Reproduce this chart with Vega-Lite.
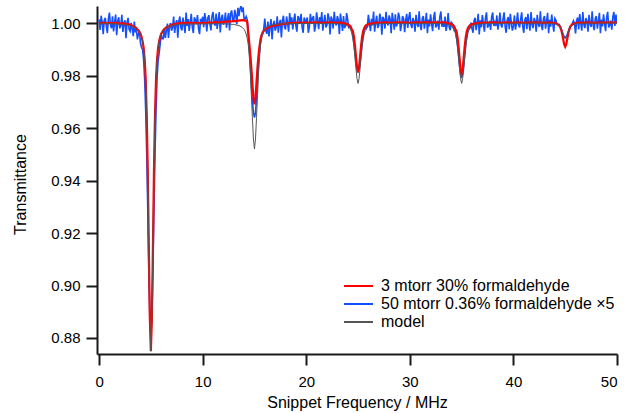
{
"$schema": "https://vega.github.io/schema/vega-lite/v6.json",
"width": 520, "height": 348,
"autosize": {"type": "none"},
"padding": {"left": 97, "top": 6, "right": 10, "bottom": 59},
"background": "white",
"config": {
  "view": {"stroke": null},
  "font": "Liberation Sans",
  "axis": {"grid": false, "domainColor": "#1a1a1a", "domainWidth": 2, "tickColor": "#1a1a1a", "tickWidth": 2, "tickSize": 11,
    "labelFont": "Liberation Sans", "labelFontSize": 15, "labelColor": "#000000",
    "titleFont": "Liberation Sans", "titleFontSize": 16, "titleFontWeight": "normal", "titleColor": "#000000"},
  "legend": {"labelFont": "Liberation Sans", "labelFontSize": 16, "labelColor": "#000000", "labelLimit": 0}
},
"datasets": {
"blue": [
{"x":0,"y":1.0014},{"x":0.1,"y":0.9974},{"x":0.2,"y":1.0028},{"x":0.3,"y":1.0004},{"x":0.4,"y":0.9958},{"x":0.5,"y":1.001},{"x":0.6,"y":1.002},{"x":0.7,"y":0.9988},{"x":0.8,"y":0.9962},{"x":0.9,"y":1.0016},
{"x":1,"y":1.004},{"x":1.1,"y":0.9992},{"x":1.2,"y":0.998},{"x":1.3,"y":1.0026},{"x":1.4,"y":0.9968},{"x":1.5,"y":1.0002},{"x":1.6,"y":1.0032},{"x":1.7,"y":0.9954},{"x":1.8,"y":1.0008},{"x":1.9,"y":1.0022},
{"x":2,"y":0.998},{"x":2.1,"y":0.9991},{"x":2.2,"y":1.0031},{"x":2.3,"y":0.9966},{"x":2.4,"y":1.0},{"x":2.5,"y":1.0011},{"x":2.6,"y":0.9942},{"x":2.7,"y":1.0003},{"x":2.8,"y":1.002},{"x":2.9,"y":0.9975},
{"x":3,"y":0.9968},{"x":3.1,"y":1.0001},{"x":3.2,"y":0.9979},{"x":3.3,"y":0.995},{"x":3.4,"y":1.0006},{"x":3.5,"y":0.9964},{"x":3.6,"y":0.9978},{"x":3.7,"y":0.9938},{"x":3.8,"y":0.9958},{"x":3.9,"y":0.9971},
{"x":4,"y":0.9923},{"x":4.1,"y":0.9907},{"x":4.2,"y":0.99},{"x":4.3,"y":0.9861},{"x":4.4,"y":0.9787},{"x":4.5,"y":0.967},{"x":4.6,"y":0.9504},{"x":4.7,"y":0.9292},{"x":4.8,"y":0.9056},{"x":4.9,"y":0.8879},
{"x":5,"y":0.882},{"x":5.1,"y":0.8879},{"x":5.2,"y":0.9056},{"x":5.3,"y":0.9292},{"x":5.4,"y":0.9504},{"x":5.5,"y":0.967},{"x":5.6,"y":0.9793},{"x":5.7,"y":0.9856},{"x":5.8,"y":0.9885},{"x":5.9,"y":0.9921},
{"x":6,"y":0.9955},{"x":6.1,"y":0.994},{"x":6.2,"y":0.994},{"x":6.3,"y":0.998},{"x":6.4,"y":0.9943},{"x":6.5,"y":0.9973},{"x":6.6,"y":0.9998},{"x":6.7,"y":0.9943},{"x":6.8,"y":0.9987},{"x":6.9,"y":1.0},
{"x":7,"y":0.9971},{"x":7.1,"y":0.9984},{"x":7.2,"y":1.0025},{"x":7.3,"y":0.9962},{"x":7.4,"y":0.9997},{"x":7.5,"y":1.0011},{"x":7.6,"y":0.9944},{"x":7.7,"y":1.0007},{"x":7.8,"y":1.0025},{"x":7.9,"y":0.9982},
{"x":8,"y":0.9972},{"x":8.1,"y":1.0021},{"x":8.2,"y":0.9995},{"x":8.3,"y":0.9962},{"x":8.4,"y":1.004},{"x":8.5,"y":0.9989},{"x":8.6,"y":1.0015},{"x":8.7,"y":0.997},{"x":8.8,"y":1.0004},{"x":8.9,"y":1.0035},
{"x":9,"y":0.9984},{"x":9.1,"y":0.9962},{"x":9.2,"y":1.0022},{"x":9.3,"y":1.0012},{"x":9.4,"y":0.9996},{"x":9.5,"y":1.003},{"x":9.6,"y":0.998},{"x":9.7,"y":0.9958},{"x":9.8,"y":1.0016},{"x":9.9,"y":1.0002},
{"x":10,"y":1.0024},{"x":10.1,"y":0.9984},{"x":10.2,"y":1.0038},{"x":10.3,"y":1.0014},{"x":10.4,"y":0.9968},{"x":10.5,"y":1.002},{"x":10.6,"y":1.003},{"x":10.7,"y":0.9998},{"x":10.8,"y":0.9972},{"x":10.9,"y":1.0026},
{"x":11,"y":1.0042},{"x":11.1,"y":1.0002},{"x":11.2,"y":0.999},{"x":11.3,"y":1.0036},{"x":11.4,"y":0.9978},{"x":11.5,"y":1.0012},{"x":11.6,"y":1.0042},{"x":11.7,"y":0.9964},{"x":11.8,"y":1.0018},{"x":11.9,"y":1.0032},
{"x":12,"y":0.9994},{"x":12.1,"y":1.0006},{"x":12.2,"y":1.004},{"x":12.3,"y":0.9982},{"x":12.4,"y":1.0016},{"x":12.5,"y":1.0038},{"x":12.6,"y":0.9972},{"x":12.7,"y":1.0036},{"x":12.8,"y":1.0048},{"x":12.9,"y":1.0013},
{"x":13,"y":1.0004},{"x":13.1,"y":1.005},{"x":13.2,"y":1.0028},{"x":13.3,"y":0.9996},{"x":13.4,"y":1.0058},{"x":13.5,"y":1.0026},{"x":13.6,"y":1.0054},{"x":13.7,"y":1.0065},{"x":13.8,"y":1.0042},{"x":13.9,"y":1.006},
{"x":14,"y":1.0014},{"x":14.1,"y":1.0016},{"x":14.2,"y":1.0025},{"x":14.3,"y":1.0013},{"x":14.4,"y":0.9975},{"x":14.5,"y":0.9905},{"x":14.6,"y":0.984},{"x":14.7,"y":0.9765},{"x":14.8,"y":0.9705},{"x":14.9,"y":0.966},
{"x":15,"y":0.964},{"x":15.1,"y":0.9658},{"x":15.2,"y":0.9712},{"x":15.3,"y":0.9784},{"x":15.4,"y":0.9849},{"x":15.5,"y":0.9899},{"x":15.6,"y":0.994},{"x":15.7,"y":0.9955},{"x":15.8,"y":0.9959},{"x":15.9,"y":0.9979},
{"x":16,"y":1.0017},{"x":16.1,"y":0.997},{"x":16.2,"y":0.9959},{"x":16.3,"y":1.0006},{"x":16.4,"y":0.9949},{"x":16.5,"y":0.9984},{"x":16.6,"y":1.0015},{"x":16.7,"y":0.9938},{"x":16.8,"y":0.9993},{"x":16.9,"y":1.0008},
{"x":17,"y":0.9971},{"x":17.1,"y":0.9984},{"x":17.2,"y":1.0026},{"x":17.3,"y":0.9963},{"x":17.4,"y":0.9999},{"x":17.5,"y":1.0012},{"x":17.6,"y":0.9945},{"x":17.7,"y":1.0009},{"x":17.8,"y":1.0028},{"x":17.9,"y":0.9985},
{"x":18,"y":0.9976},{"x":18.1,"y":1.0025},{"x":18.2,"y":1.0},{"x":18.3,"y":0.9967},{"x":18.4,"y":1.0038},{"x":18.5,"y":0.9995},{"x":18.6,"y":1.0022},{"x":18.7,"y":0.9976},{"x":18.8,"y":1.0011},{"x":18.9,"y":1.0036},
{"x":19,"y":0.9989},{"x":19.1,"y":0.9967},{"x":19.2,"y":1.0027},{"x":19.3,"y":1.0017},{"x":19.4,"y":1.0001},{"x":19.5,"y":1.0035},{"x":19.6,"y":0.9985},{"x":19.7,"y":0.9963},{"x":19.8,"y":1.0021},{"x":19.9,"y":1.0007},
{"x":20,"y":1.0007},{"x":20.1,"y":1.0021},{"x":20.2,"y":0.9963},{"x":20.3,"y":0.9985},{"x":20.4,"y":1.0035},{"x":20.5,"y":1.0001},{"x":20.6,"y":1.0017},{"x":20.7,"y":1.0027},{"x":20.8,"y":0.9967},{"x":20.9,"y":0.9989},
{"x":21,"y":1.0041},{"x":21.1,"y":1.0011},{"x":21.2,"y":0.9977},{"x":21.3,"y":1.0023},{"x":21.4,"y":0.9997},{"x":21.5,"y":1.0042},{"x":21.6,"y":0.9971},{"x":21.7,"y":1.0005},{"x":21.8,"y":1.0031},{"x":21.9,"y":0.9983},
{"x":22,"y":0.9993},{"x":22.1,"y":1.0037},{"x":22.2,"y":1.0019},{"x":22.3,"y":0.9957},{"x":22.4,"y":1.0025},{"x":22.5,"y":1.0013},{"x":22.6,"y":0.9979},{"x":22.7,"y":1.0043},{"x":22.8,"y":1.0003},{"x":22.9,"y":0.9991},
{"x":23,"y":1.0027},{"x":23.1,"y":1.0013},{"x":23.2,"y":0.9958},{"x":23.3,"y":1.0036},{"x":23.4,"y":1.0005},{"x":23.5,"y":0.997},{"x":23.6,"y":1.0027},{"x":23.7,"y":0.998},{"x":23.8,"y":0.9991},{"x":23.9,"y":1.0038},
{"x":24,"y":1.0013},{"x":24.1,"y":0.9983},{"x":24.2,"y":0.9986},{"x":24.3,"y":0.9987},{"x":24.4,"y":0.9974},{"x":24.5,"y":0.9952},{"x":24.6,"y":0.9925},{"x":24.7,"y":0.9891},{"x":24.8,"y":0.9853},{"x":24.9,"y":0.9825},
{"x":25,"y":0.9815},{"x":25.1,"y":0.9825},{"x":25.2,"y":0.9853},{"x":25.3,"y":0.9891},{"x":25.4,"y":0.9925},{"x":25.5,"y":0.9952},{"x":25.6,"y":0.9974},{"x":25.7,"y":0.9987},{"x":25.8,"y":0.9979},{"x":25.9,"y":0.9988},
{"x":26,"y":1.0031},{"x":26.1,"y":1.0002},{"x":26.2,"y":0.9969},{"x":26.3,"y":1.0016},{"x":26.4,"y":0.9991},{"x":26.5,"y":1.0044},{"x":26.6,"y":0.9967},{"x":26.7,"y":1.0002},{"x":26.8,"y":1.0028},{"x":26.9,"y":0.9981},
{"x":27,"y":0.9991},{"x":27.1,"y":1.0036},{"x":27.2,"y":1.0018},{"x":27.3,"y":0.9956},{"x":27.4,"y":1.0024},{"x":27.5,"y":1.0013},{"x":27.6,"y":0.9979},{"x":27.7,"y":1.0043},{"x":27.8,"y":1.0003},{"x":27.9,"y":0.9991},
{"x":28,"y":1.0029},{"x":28.1,"y":1.0015},{"x":28.2,"y":0.9961},{"x":28.3,"y":1.0039},{"x":28.4,"y":1.0009},{"x":28.5,"y":0.9975},{"x":28.6,"y":1.0033},{"x":28.7,"y":0.9987},{"x":28.8,"y":0.9999},{"x":28.9,"y":1.004},
{"x":29,"y":1.0023},{"x":29.1,"y":0.9969},{"x":29.2,"y":0.9995},{"x":29.3,"y":1.0027},{"x":29.4,"y":1.0017},{"x":29.5,"y":0.9965},{"x":29.6,"y":1.0011},{"x":29.7,"y":1.0035},{"x":29.8,"y":0.9981},{"x":29.9,"y":1.0021},
{"x":30,"y":1.0042},{"x":30.1,"y":0.9995},{"x":30.2,"y":0.9981},{"x":30.3,"y":1.0019},{"x":30.4,"y":1.0007},{"x":30.5,"y":0.9967},{"x":30.6,"y":1.0031},{"x":30.7,"y":0.9997},{"x":30.8,"y":0.9985},{"x":30.9,"y":1.0045},
{"x":31,"y":0.9991},{"x":31.1,"y":0.9973},{"x":31.2,"y":1.0017},{"x":31.3,"y":1.0027},{"x":31.4,"y":0.9979},{"x":31.5,"y":1.0005},{"x":31.6,"y":1.0039},{"x":31.7,"y":0.9961},{"x":31.8,"y":1.0013},{"x":31.9,"y":0.9987},
{"x":32,"y":1.0033},{"x":32.1,"y":0.9999},{"x":32.2,"y":0.9969},{"x":32.3,"y":1.0021},{"x":32.4,"y":1.0043},{"x":32.5,"y":0.9983},{"x":32.6,"y":0.9993},{"x":32.7,"y":1.0009},{"x":32.8,"y":0.9975},{"x":32.9,"y":1.0025},
{"x":33,"y":1.0044},{"x":33.1,"y":0.9986},{"x":33.2,"y":1.0},{"x":33.3,"y":0.9985},{"x":33.4,"y":1.0025},{"x":33.5,"y":0.997},{"x":33.6,"y":0.9993},{"x":33.7,"y":1.0038},{"x":33.8,"y":0.9985},{"x":33.9,"y":0.9973},
{"x":34,"y":1.0003},{"x":34.1,"y":0.9999},{"x":34.2,"y":0.9982},{"x":34.3,"y":0.997},{"x":34.4,"y":0.9968},{"x":34.5,"y":0.9946},{"x":34.6,"y":0.9917},{"x":34.7,"y":0.9879},{"x":34.8,"y":0.9837},{"x":34.9,"y":0.9805},
{"x":35,"y":0.9795},{"x":35.1,"y":0.9805},{"x":35.2,"y":0.9837},{"x":35.3,"y":0.9879},{"x":35.4,"y":0.9917},{"x":35.5,"y":0.9946},{"x":35.6,"y":0.9973},{"x":35.7,"y":0.9978},{"x":35.8,"y":0.9981},{"x":35.9,"y":1.0002},
{"x":36,"y":0.9979},{"x":36.1,"y":0.9963},{"x":36.2,"y":1.0009},{"x":36.3,"y":1.002},{"x":36.4,"y":0.9973},{"x":36.5,"y":1.0},{"x":36.6,"y":1.0035},{"x":36.7,"y":0.9957},{"x":36.8,"y":1.001},{"x":36.9,"y":0.9984},
{"x":37,"y":1.003},{"x":37.1,"y":0.9997},{"x":37.2,"y":0.9967},{"x":37.3,"y":1.0019},{"x":37.4,"y":1.0041},{"x":37.5,"y":0.9982},{"x":37.6,"y":0.9992},{"x":37.7,"y":1.0008},{"x":37.8,"y":0.9974},{"x":37.9,"y":1.0024},
{"x":38,"y":1.004},{"x":38.1,"y":0.9989},{"x":38.2,"y":1.0003},{"x":38.3,"y":0.9989},{"x":38.4,"y":1.0029},{"x":38.5,"y":0.9975},{"x":38.6,"y":0.9999},{"x":38.7,"y":1.004},{"x":38.8,"y":0.9993},{"x":38.9,"y":0.9983},
{"x":39,"y":1.0015},{"x":39.1,"y":1.0041},{"x":39.2,"y":0.9987},{"x":39.3,"y":0.9963},{"x":39.4,"y":1.0011},{"x":39.5,"y":1.0023},{"x":39.6,"y":0.9977},{"x":39.7,"y":1.0035},{"x":39.8,"y":1.0001},{"x":39.9,"y":0.9971},
{"x":40,"y":0.9989},{"x":40.1,"y":1.0029},{"x":40.2,"y":0.9975},{"x":40.3,"y":0.9999},{"x":40.4,"y":1.004},{"x":40.5,"y":0.9993},{"x":40.6,"y":0.9983},{"x":40.7,"y":1.0015},{"x":40.8,"y":1.0041},{"x":40.9,"y":0.9987},
{"x":41,"y":0.9963},{"x":41.1,"y":1.0011},{"x":41.2,"y":1.0023},{"x":41.3,"y":0.9977},{"x":41.4,"y":1.0035},{"x":41.5,"y":1.0001},{"x":41.6,"y":0.9971},{"x":41.7,"y":1.0042},{"x":41.8,"y":0.9995},{"x":41.9,"y":0.9981},
{"x":42,"y":1.0019},{"x":42.1,"y":1.0007},{"x":42.2,"y":0.9967},{"x":42.3,"y":1.0031},{"x":42.4,"y":0.9997},{"x":42.5,"y":0.9985},{"x":42.6,"y":1.0045},{"x":42.7,"y":0.9991},{"x":42.8,"y":0.9973},{"x":42.9,"y":1.0017},
{"x":43,"y":1.0027},{"x":43.1,"y":0.9979},{"x":43.2,"y":1.0005},{"x":43.3,"y":1.0039},{"x":43.4,"y":0.9961},{"x":43.5,"y":1.0012},{"x":43.6,"y":0.9986},{"x":43.7,"y":1.0032},{"x":43.8,"y":0.9997},{"x":43.9,"y":0.9967},
{"x":44,"y":1.0018},{"x":44.1,"y":1.0011},{"x":44.2,"y":0.9995},{"x":44.3,"y":0.9995},{"x":44.4,"y":0.9995},{"x":44.5,"y":0.9988},{"x":44.6,"y":0.998},{"x":44.7,"y":0.9969},{"x":44.8,"y":0.9957},{"x":44.9,"y":0.9948},
{"x":45,"y":0.9945},{"x":45.1,"y":0.9948},{"x":45.2,"y":0.9957},{"x":45.3,"y":0.9969},{"x":45.4,"y":0.998},{"x":45.5,"y":0.9988},{"x":45.6,"y":0.9989},{"x":45.7,"y":1.0},{"x":45.8,"y":1.0009},{"x":45.9,"y":0.9997},
{"x":46,"y":0.996},{"x":46.1,"y":1.0009},{"x":46.2,"y":1.0021},{"x":46.3,"y":0.9976},{"x":46.4,"y":1.0034},{"x":46.5,"y":1.0},{"x":46.6,"y":0.9971},{"x":46.7,"y":1.0042},{"x":46.8,"y":0.9995},{"x":46.9,"y":0.9981},
{"x":47,"y":1.0019},{"x":47.1,"y":1.0007},{"x":47.2,"y":0.9967},{"x":47.3,"y":1.0031},{"x":47.4,"y":0.9997},{"x":47.5,"y":0.9985},{"x":47.6,"y":1.0045},{"x":47.7,"y":0.9991},{"x":47.8,"y":0.9973},{"x":47.9,"y":1.0017},
{"x":48,"y":1.0027},{"x":48.1,"y":0.9979},{"x":48.2,"y":1.0005},{"x":48.3,"y":1.0039},{"x":48.4,"y":0.9961},{"x":48.5,"y":1.0013},{"x":48.6,"y":0.9987},{"x":48.7,"y":1.0033},{"x":48.8,"y":0.9999},{"x":48.9,"y":0.9969},
{"x":49,"y":1.0021},{"x":49.1,"y":1.0043},{"x":49.2,"y":0.9983},{"x":49.3,"y":0.9993},{"x":49.4,"y":1.0009},{"x":49.5,"y":0.9975},{"x":49.6,"y":1.0025},{"x":49.7,"y":1.0042},{"x":49.8,"y":0.9989},{"x":49.9,"y":1.0032},
{"x":50,"y":0.9996}
],
"red": [
{"x":0,"y":1.0001},{"x":0.2,"y":0.9999},{"x":0.4,"y":1.0002},{"x":0.6,"y":1.0},{"x":0.8,"y":0.9998},{"x":1,"y":1.0002},{"x":1.2,"y":1.0001},{"x":1.4,"y":0.9999},{"x":1.6,"y":1.0002},{"x":1.8,"y":1.0},
{"x":2,"y":0.9997},{"x":2.2,"y":1.0},{"x":2.4,"y":0.9998},{"x":2.6,"y":0.9995},{"x":2.8,"y":0.9996},{"x":3,"y":0.9993},{"x":3.2,"y":0.999},{"x":3.5,"y":0.9984},{"x":3.8,"y":0.9972},
{"x":4,"y":0.9959},{"x":4.1,"y":0.9948},{"x":4.2,"y":0.9931},{"x":4.3,"y":0.9906},{"x":4.4,"y":0.9863},{"x":4.5,"y":0.9788},{"x":4.6,"y":0.965},{"x":4.7,"y":0.9438},{"x":4.8,"y":0.915},{"x":4.9,"y":0.8875},
{"x":5,"y":0.875},{"x":5.1,"y":0.8875},{"x":5.2,"y":0.915},{"x":5.3,"y":0.9438},{"x":5.4,"y":0.965},{"x":5.5,"y":0.9788},{"x":5.6,"y":0.9863},{"x":5.7,"y":0.9906},{"x":5.8,"y":0.9931},{"x":5.9,"y":0.9948},
{"x":6,"y":0.9959},{"x":6.2,"y":0.9973},{"x":6.5,"y":0.9984},{"x":6.8,"y":0.9989},{"x":7,"y":0.9993},{"x":7.2,"y":0.9995},{"x":7.4,"y":0.9997},{"x":7.6,"y":0.9999},{"x":7.8,"y":1.0},
{"x":8,"y":1.0002},{"x":8.2,"y":0.9999},{"x":8.4,"y":1.0001},{"x":8.6,"y":1.0},{"x":8.8,"y":1.0002},{"x":9,"y":0.9999},{"x":9.2,"y":1.0001},{"x":9.4,"y":1.0},{"x":9.6,"y":1.0001},{"x":9.8,"y":0.9999},
{"x":10,"y":1.0002},{"x":10.2,"y":1.0},{"x":10.4,"y":1.0001},{"x":10.6,"y":1.0003},{"x":10.8,"y":1.0001},{"x":11,"y":1.0002},{"x":11.2,"y":1.0004},{"x":11.4,"y":1.0002},{"x":11.6,"y":1.0003},{"x":11.8,"y":1.0005},
{"x":12,"y":1.0004},{"x":12.2,"y":1.0006},{"x":12.4,"y":1.0005},{"x":12.6,"y":1.0007},{"x":12.8,"y":1.0006},{"x":13,"y":1.0008},{"x":13.2,"y":1.0007},{"x":13.4,"y":1.0009},{"x":13.6,"y":1.001},{"x":13.8,"y":1.0011},
{"x":14,"y":1.001},{"x":14.2,"y":1.0009},{"x":14.3,"y":1.0004},{"x":14.4,"y":0.996},{"x":14.5,"y":0.9925},{"x":14.6,"y":0.988},{"x":14.7,"y":0.983},{"x":14.8,"y":0.977},{"x":14.9,"y":0.9715},
{"x":15,"y":0.969},{"x":15.1,"y":0.9715},{"x":15.2,"y":0.9775},{"x":15.3,"y":0.9835},{"x":15.4,"y":0.988},{"x":15.5,"y":0.9915},{"x":15.6,"y":0.994},{"x":15.7,"y":0.9955},{"x":15.8,"y":0.9965},
{"x":16,"y":0.9975},{"x":16.2,"y":0.9981},{"x":16.5,"y":0.9986},{"x":16.8,"y":0.999},{"x":17,"y":0.9992},{"x":17.5,"y":0.9995},{"x":18,"y":0.9998},{"x":18.4,"y":1.0},{"x":18.8,"y":1.0001},{"x":19.2,"y":1.0002},{"x":19.6,"y":1.0001},
{"x":20,"y":1.0002},{"x":20.4,"y":1.0001},{"x":20.8,"y":1.0003},{"x":21.2,"y":1.0002},{"x":21.6,"y":1.0001},{"x":22,"y":1.0002},{"x":22.4,"y":1.0003},{"x":22.8,"y":1.0001},{"x":23.2,"y":1.0002},{"x":23.6,"y":1.0},
{"x":24,"y":0.9995},{"x":24.2,"y":0.999},{"x":24.3,"y":0.9985},{"x":24.4,"y":0.9975},{"x":24.5,"y":0.997},{"x":24.6,"y":0.9949},{"x":24.7,"y":0.9916},{"x":24.8,"y":0.9873},{"x":24.9,"y":0.9831},
{"x":25,"y":0.9812},{"x":25.1,"y":0.9831},{"x":25.2,"y":0.9873},{"x":25.3,"y":0.9916},{"x":25.4,"y":0.9949},{"x":25.5,"y":0.997},{"x":25.6,"y":0.9981},{"x":25.7,"y":0.9988},{"x":25.8,"y":0.9992},
{"x":26,"y":0.9996},{"x":26.4,"y":0.9999},{"x":26.8,"y":1.0002},{"x":27.2,"y":1.0001},{"x":27.6,"y":1.0003},{"x":28,"y":1.0002},{"x":28.4,"y":1.0001},{"x":28.8,"y":1.0003},{"x":29.2,"y":1.0002},{"x":29.6,"y":1.0003},
{"x":30,"y":1.0001},{"x":30.4,"y":1.0002},{"x":30.8,"y":1.0003},{"x":31.2,"y":1.0002},{"x":31.6,"y":1.0004},{"x":32,"y":1.0002},{"x":32.4,"y":1.0003},{"x":32.8,"y":1.0002},{"x":33.2,"y":1.0003},{"x":33.6,"y":1.0001},
{"x":34,"y":0.9996},{"x":34.2,"y":0.9991},{"x":34.3,"y":0.9986},{"x":34.4,"y":0.9976},{"x":34.5,"y":0.9969},{"x":34.6,"y":0.9947},{"x":34.7,"y":0.9912},{"x":34.8,"y":0.9867},{"x":34.9,"y":0.9822},
{"x":35,"y":0.9802},{"x":35.1,"y":0.9822},{"x":35.2,"y":0.9867},{"x":35.3,"y":0.9912},{"x":35.4,"y":0.9947},{"x":35.5,"y":0.9969},{"x":35.6,"y":0.998},{"x":35.7,"y":0.9987},{"x":35.8,"y":0.9991},
{"x":36,"y":0.9996},{"x":36.4,"y":0.9999},{"x":36.8,"y":1.0001},{"x":37.2,"y":1.0002},{"x":37.6,"y":1.0001},{"x":38,"y":1.0003},{"x":38.4,"y":1.0002},{"x":38.8,"y":1.0001},{"x":39.2,"y":1.0003},{"x":39.6,"y":1.0002},
{"x":40,"y":1.0001},{"x":40.4,"y":1.0003},{"x":40.8,"y":1.0002},{"x":41.2,"y":1.0001},{"x":41.6,"y":1.0003},{"x":42,"y":1.0002},{"x":42.4,"y":1.0003},{"x":42.8,"y":1.0001},{"x":43.2,"y":1.0002},{"x":43.6,"y":1.0002},
{"x":44,"y":1.0},{"x":44.2,"y":0.9997},{"x":44.4,"y":0.9991},{"x":44.5,"y":0.9986},{"x":44.6,"y":0.9976},{"x":44.7,"y":0.996},{"x":44.8,"y":0.994},{"x":44.9,"y":0.9919},
{"x":45,"y":0.991},{"x":45.1,"y":0.9919},{"x":45.2,"y":0.994},{"x":45.3,"y":0.996},{"x":45.4,"y":0.9976},{"x":45.5,"y":0.9986},{"x":45.6,"y":0.9992},{"x":45.8,"y":0.9997},
{"x":46,"y":1.0},{"x":46.4,"y":1.0002},{"x":46.8,"y":1.0001},{"x":47.2,"y":1.0003},{"x":47.6,"y":1.0002},{"x":48,"y":1.0001},{"x":48.4,"y":1.0003},{"x":48.8,"y":1.0002},{"x":49.2,"y":1.0003},{"x":49.6,"y":1.0002},{"x":50,"y":1.0003}
],
"model": [
{"x":0,"y":1.0},{"x":2,"y":0.9996},{"x":3,"y":0.9991},{"x":3.5,"y":0.9984},{"x":3.8,"y":0.99725},{"x":4,"y":0.9959},{"x":4.1,"y":0.9948},{"x":4.2,"y":0.9931},{"x":4.3,"y":0.9906},{"x":4.4,"y":0.98625},
{"x":4.5,"y":0.97875},{"x":4.6,"y":0.965},{"x":4.7,"y":0.94375},{"x":4.8,"y":0.915},{"x":4.9,"y":0.8875},{"x":5,"y":0.875},{"x":5.1,"y":0.8875},{"x":5.2,"y":0.915},{"x":5.3,"y":0.94375},{"x":5.4,"y":0.965},
{"x":5.5,"y":0.97875},{"x":5.6,"y":0.98625},{"x":5.7,"y":0.9906},{"x":5.8,"y":0.9931},{"x":5.9,"y":0.9948},{"x":6,"y":0.9959},{"x":6.2,"y":0.99725},{"x":6.5,"y":0.9984},{"x":7,"y":0.9991},{"x":8,"y":0.9996},
{"x":12,"y":0.99976},{"x":13,"y":0.99947},{"x":13.5,"y":0.99904},{"x":13.8,"y":0.99842},{"x":14,"y":0.9976},{"x":14.1,"y":0.99688},{"x":14.2,"y":0.99582},{"x":14.3,"y":0.99424},{"x":14.4,"y":0.99184},{"x":14.5,"y":0.98752},
{"x":14.6,"y":0.98128},{"x":14.7,"y":0.97264},{"x":14.8,"y":0.964},{"x":14.9,"y":0.95584},{"x":15,"y":0.952},{"x":15.1,"y":0.95584},{"x":15.2,"y":0.964},{"x":15.3,"y":0.97264},{"x":15.4,"y":0.98128},{"x":15.5,"y":0.98752},
{"x":15.6,"y":0.99184},{"x":15.7,"y":0.99424},{"x":15.8,"y":0.99582},{"x":15.9,"y":0.99688},{"x":16,"y":0.9976},{"x":16.2,"y":0.99842},{"x":16.5,"y":0.99904},{"x":17,"y":0.99947},{"x":18,"y":0.99976},
{"x":22,"y":0.99989},{"x":23,"y":0.99975},{"x":23.5,"y":0.99954},{"x":23.8,"y":0.99924},{"x":24,"y":0.99885},{"x":24.1,"y":0.9985},{"x":24.2,"y":0.998},{"x":24.3,"y":0.99724},{"x":24.4,"y":0.99609},{"x":24.5,"y":0.99402},
{"x":24.6,"y":0.99103},{"x":24.7,"y":0.98689},{"x":24.8,"y":0.98275},{"x":24.9,"y":0.97884},{"x":25,"y":0.977},{"x":25.1,"y":0.97884},{"x":25.2,"y":0.98275},{"x":25.3,"y":0.98689},{"x":25.4,"y":0.99103},{"x":25.5,"y":0.99402},
{"x":25.6,"y":0.99609},{"x":25.7,"y":0.99724},{"x":25.8,"y":0.998},{"x":25.9,"y":0.9985},{"x":26,"y":0.99885},{"x":26.2,"y":0.99924},{"x":26.5,"y":0.99954},{"x":27,"y":0.99975},{"x":28,"y":0.99989},
{"x":32,"y":0.99989},{"x":33,"y":0.99975},{"x":33.5,"y":0.99954},{"x":33.8,"y":0.99924},{"x":34,"y":0.99885},{"x":34.1,"y":0.9985},{"x":34.2,"y":0.998},{"x":34.3,"y":0.99724},{"x":34.4,"y":0.99609},{"x":34.5,"y":0.99402},
{"x":34.6,"y":0.99103},{"x":34.7,"y":0.98689},{"x":34.8,"y":0.98275},{"x":34.9,"y":0.97884},{"x":35,"y":0.977},{"x":35.1,"y":0.97884},{"x":35.2,"y":0.98275},{"x":35.3,"y":0.98689},{"x":35.4,"y":0.99103},{"x":35.5,"y":0.99402},
{"x":35.6,"y":0.99609},{"x":35.7,"y":0.99724},{"x":35.8,"y":0.998},{"x":35.9,"y":0.9985},{"x":36,"y":0.99885},{"x":36.2,"y":0.99924},{"x":36.5,"y":0.99954},{"x":37,"y":0.99975},{"x":38,"y":0.99989},
{"x":42,"y":1.0},{"x":43,"y":1.0},{"x":43.5,"y":0.99988},{"x":43.8,"y":0.9998},{"x":44,"y":0.9997},{"x":44.1,"y":0.99961},{"x":44.2,"y":0.99948},{"x":44.3,"y":0.99928},{"x":44.4,"y":0.99898},{"x":44.5,"y":0.99844},
{"x":44.6,"y":0.99766},{"x":44.7,"y":0.99658},{"x":44.8,"y":0.9955},{"x":44.9,"y":0.99448},{"x":45,"y":0.994},{"x":45.1,"y":0.99448},{"x":45.2,"y":0.9955},{"x":45.3,"y":0.99658},{"x":45.4,"y":0.99766},{"x":45.5,"y":0.99844},
{"x":45.6,"y":0.99898},{"x":45.7,"y":0.99928},{"x":45.8,"y":0.99948},{"x":45.9,"y":0.99961},{"x":46,"y":0.9997},{"x":46.2,"y":0.9998},{"x":46.5,"y":0.99988},{"x":47,"y":1.0},{"x":50,"y":1.0}
]
},
"encoding": {
  "x": {"field": "x", "type": "quantitative", "scale": {"domain": [-0.2, 50], "nice": false, "zero": false},
    "axis": {"values": [0, 10, 20, 30, 40, 50], "title": "Snippet Frequency / MHz", "labelPadding": 9, "titleBaseline": "alphabetic", "titleY": 53, "titleX": 260, "titleAlign": "center"}},
  "y": {"field": "y", "type": "quantitative", "scale": {"domain": [0.8739, 1.0065], "nice": false, "zero": false},
    "axis": {"values": [0.88, 0.9, 0.92, 0.94, 0.96, 0.98, 1.0], "format": ".2f", "title": "Transmittance", "labelPadding": 6,
      "titleAngle": -90, "titleBaseline": "alphabetic", "titleX": -72, "titleY": 178, "titleAlign": "center"}}
},
"layer": [
  {"data": {"name": "blue"}, "mark": {"type": "line", "strokeWidth": 1.6, "clip": true},
   "encoding": {"color": {"datum": "50 mtorr 0.36% formaldehyde ×5", "type": "nominal",
     "scale": {"domain": ["3 mtorr 30% formaldehyde", "50 mtorr 0.36% formaldehyde ×5", "model"], "range": ["#ff0000", "#1450ff", "#555555"]},
     "legend": {"orient": "none", "legendX": 246, "legendY": 271, "title": null, "symbolType": "stroke", "symbolSize": 841, "symbolStrokeWidth": 2, "labelOffset": 7, "padding": 0, "rowPadding": 0, "clipHeight": 18, "labelLimit": 0}}}},
  {"data": {"name": "red"}, "mark": {"type": "line", "strokeWidth": 2.2, "clip": true},
   "encoding": {"color": {"datum": "3 mtorr 30% formaldehyde", "type": "nominal"}}},
  {"data": {"name": "model"}, "mark": {"type": "line", "strokeWidth": 1, "clip": true, "color": "#000000"},
   "encoding": {"color": {"datum": "model", "type": "nominal"}}}
]
}
